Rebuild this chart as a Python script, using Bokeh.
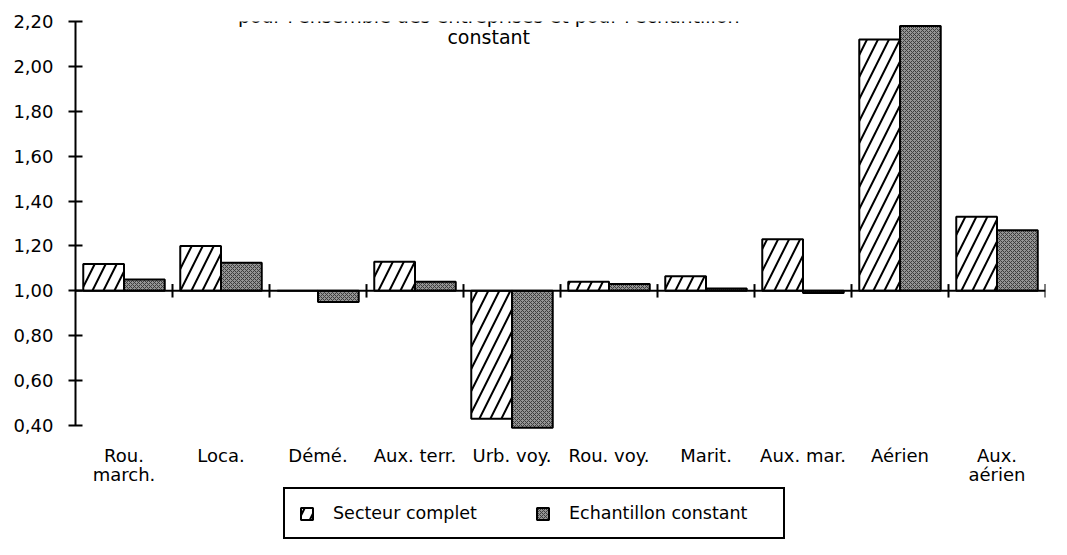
from bokeh.plotting import figure
from bokeh.models import (FactorRange, Range1d, FixedTicker, CustomJSTickFormatter,
                          Label, Legend, LegendItem, ColumnDataSource)
from bokeh.core.properties import value
from bokeh.transform import dodge
from bokeh.embed import file_html
from bokeh.resources import INLINE

# ---- data ----
categories = ["Rou. march.", "Loca.", "Démé.", "Aux. terr.", "Urb. voy.",
              "Rou. voy.", "Marit.", "Aux. mar.", "Aérien", "Aux. aérien"]
label_line1 = ["Rou.", "Loca.", "Démé.", "Aux. terr.", "Urb. voy.",
               "Rou. voy.", "Marit.", "Aux. mar.", "Aérien", "Aux."]
label_line2 = ["march.", "", "", "", "", "", "", "", "", "aérien"]
secteur_complet = [1.12, 1.20, 1.00, 1.13, 0.43, 1.04, 1.065, 1.23, 2.12, 1.33]
echantillon_constant = [1.05, 1.125, 0.95, 1.04, 0.39, 1.03, 1.01, 0.99, 2.18, 1.27]
y_ticks = [0.40, 0.60, 0.80, 1.00, 1.20, 1.40, 1.60, 1.80, 2.00, 2.20]
baseline = 1.0
title_lines = ["pour l'ensemble des entreprises et pour l'échantillon", "constant"]
series_names = ["Secteur complet", "Echantillon constant"]

FONT = "DejaVu Sans"
Y_LOW = -0.108   # frame extends below the axis to hold labels and legend

n = len(categories)
src = ColumnDataSource(dict(cat=categories, sc=secteur_complet, ec=echantillon_constant,
                            base=[baseline] * n, l1=label_line1, l2=label_line2,
                            ly1=[0.311] * n, ly2=[0.228] * n))

p = figure(width=1051, height=539, output_backend="svg", toolbar_location=None,
           x_range=FactorRange(factors=categories, range_padding=0),
           y_range=Range1d(Y_LOW, y_ticks[-1]), x_axis_location=None,
           min_border_left=75, min_border_right=6, min_border_top=21,
           min_border_bottom=0)
p.outline_line_color = None
p.xgrid.visible = False
p.ygrid.visible = False
p.background_fill_color = "white"
p.border_fill_color = "white"

r1 = p.vbar(x=dodge("cat", -0.21, range=p.x_range), width=0.42, bottom="base", top="sc",
            source=src, fill_color="white", line_color="black", line_width=2,
            hatch_pattern="/", hatch_color="black", hatch_weight=2, hatch_scale=22)
r2 = p.vbar(x=dodge("cat", 0.21, range=p.x_range), width=0.42, bottom="base", top="ec",
            source=src, fill_color="#949494", line_color="black", line_width=2,
            hatch_pattern="x", hatch_color="#3c3c3c", hatch_weight=1, hatch_scale=4)

# horizontal category axis at y = 1
p.segment(x0=[0], x1=[n], y0=[baseline], y1=[baseline],
          line_color="black", line_width=2)
p.segment(x0=dodge("cat", 0.5, range=p.x_range), x1=dodge("cat", 0.5, range=p.x_range),
          y0=baseline - 0.03, y1=baseline + 0.03, source=src, line_color="black", line_width=2)

# category labels
for col_t, col_y in (("l1", "ly1"), ("l2", "ly2")):
    p.text(x="cat", y=col_y, text=col_t, source=src, text_align="center",
           text_baseline="top", text_font=value(FONT), text_font_size="18px",
           text_color="black")

# y axis
ya = p.yaxis[0]
ya.bounds = (y_ticks[0], y_ticks[-1])
ya.ticker = FixedTicker(ticks=y_ticks)
ya.formatter = CustomJSTickFormatter(code="return tick.toFixed(2).replace('.', ',');")
ya.axis_line_width = 2
ya.axis_line_color = "black"
ya.major_tick_line_width = 2
ya.major_tick_line_color = "black"
ya.major_tick_in = 7
ya.major_tick_out = 7
ya.minor_tick_line_color = None
ya.major_label_standoff = 15
ya.major_label_text_font = FONT
ya.major_label_text_font_size = "18px"
ya.major_label_text_color = "black"

# title
p.add_layout(Label(x=4.26, y=2.2223, text=title_lines[0], text_align="center",
                   text_baseline="alphabetic", text_font=FONT, text_font_size="19px",
                   text_color="black"))
p.add_layout(Label(x=4.26, y=2.133, text=title_lines[1], text_align="center",
                   text_baseline="alphabetic", text_font=FONT, text_font_size="19px",
                   text_color="black"))

legend = Legend(items=[LegendItem(label=series_names[0], renderers=[r1]),
                       LegendItem(label=series_names[1], renderers=[r2])],
                orientation="horizontal", location=(208, 0),
                border_line_color="black", border_line_width=2, border_line_alpha=1,
                background_fill_color="white", background_fill_alpha=1,
                label_text_font=FONT, label_text_font_size="17.5px", label_text_color="black",
                glyph_width=15, glyph_height=15, label_standoff=19, spacing=2,
                padding=14, margin=0, label_width=200)
p.add_layout(legend)

open("out.html", "w").write(file_html(p, INLINE))
